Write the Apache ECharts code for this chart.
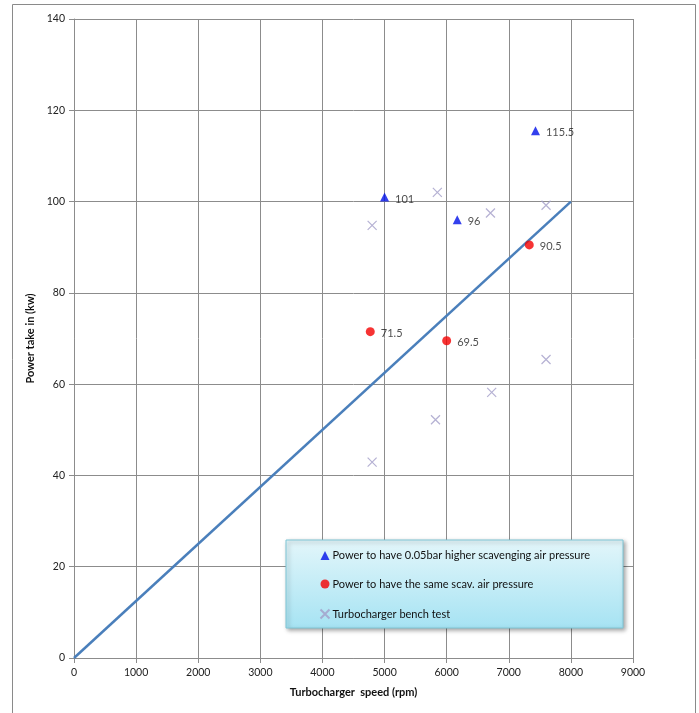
<!DOCTYPE html>
<html>
<head>
<meta charset="utf-8">
<script src="https://cdn.jsdelivr.net/npm/echarts@6/dist/echarts.min.js"></script>
<style>html,body{margin:0;padding:0;background:#fff}#c{width:699px;height:713px}</style>
</head>
<body>
<div id="c"></div>
<script>
// Data
const triX = [5000, 6170, 7430];
const triY = [101, 96, 115.5];
const triLabels = ['101', '96', '115.5'];
const dotX = [4770, 6000, 7330];
const dotY = [71.5, 69.5, 90.5];
const dotLabels = ['71.5', '69.5', '90.5'];
const crossX = [4800, 5850, 6705, 7600, 4800, 5820, 6725, 7600];
const crossY = [94.8, 102.0, 97.5, 99.2, 42.9, 52.2, 58.2, 65.4];
const lineX = [0, 8000];
const lineY = [0, 100];
const seriesNames = [
  'Power to have 0.05bar higher scavenging air pressure',
  'Power to have the same scav. air pressure',
  'Turbocharger bench test'
];
const xTicks = [0, 1000, 2000, 3000, 4000, 5000, 6000, 7000, 8000, 9000];
const yTicks = [0, 20, 40, 60, 80, 100, 120, 140];

const zip = (xs, ys) => xs.map((x, i) => [x, ys[i]]);
const FONT = 'Lato';

const chart = echarts.init(document.getElementById('c'), null, {renderer: 'canvas'});
const crossPath = 'path://M0,0L10,10M10,0L0,10';

chart.setOption({
  animation: false,
  backgroundColor: '#fff',
  graphic: [
    {type: 'rect', z: 0, shape: {x: 12.5, y: 4.5, width: 683, height: 720},
     style: {fill: 'none', stroke: '#8a8a8a', lineWidth: 1}},
    {type: 'rect', z: 10, shape: {x: 286, y: 540, width: 337, height: 88},
     style: {
       fill: new echarts.graphic.LinearGradient(0, 0, 0, 1, [
         {offset: 0, color: '#e3f6fa'}, {offset: 1, color: '#a6e3f3'}]),
       stroke: '#7fc6d6', lineWidth: 1,
       shadowBlur: 4, shadowOffsetX: 2, shadowOffsetY: 2, shadowColor: 'rgba(0,0,0,0.35)'
     }}
  ],
  grid: {left: 74, right: 66, top: 19, bottom: 55, containLabel: false},
  xAxis: {
    type: 'value', min: 0, max: 9000, interval: 1000,
    name: 'Turbocharger  speed (rpm)', nameLocation: 'middle', nameGap: 29,
    nameTextStyle: {fontFamily: FONT, fontWeight: 'bold', fontSize: 11, color: '#111'},
    axisLine: {show: true, lineStyle: {color: '#8c8c8c', width: 1}},
    axisTick: {show: true, length: 5, inside: false, lineStyle: {color: '#8c8c8c'}},
    axisLabel: {fontFamily: FONT, fontSize: 10.5, color: '#222', margin: 9,
      formatter: v => xTicks.includes(v) ? String(v) : ''},
    splitLine: {show: true, lineStyle: {color: '#8c8c8c', width: 1}}
  },
  yAxis: {
    type: 'value', min: 0, max: 140, interval: 20,
    name: 'Power take in (kw)', nameLocation: 'middle', nameGap: 34,
    nameTextStyle: {fontFamily: FONT, fontWeight: 'bold', fontSize: 11, color: '#111'},
    axisLine: {show: true, lineStyle: {color: '#8c8c8c', width: 1}},
    axisTick: {show: true, length: 5, inside: false, lineStyle: {color: '#8c8c8c'}},
    axisLabel: {fontFamily: FONT, fontSize: 10.5, color: '#222', margin: 9,
      formatter: v => yTicks.includes(v) ? String(v) : ''},
    splitLine: {show: true, lineStyle: {color: '#8c8c8c', width: 1}}
  },
  legend: {
    orient: 'vertical', left: 313, top: 545, itemWidth: 9, itemHeight: 9, itemGap: 17.5,
    data: seriesNames, selectedMode: false,
    textStyle: {fontFamily: FONT, fontSize: 11, color: '#111', padding: [0, 0, 0, -2]},
    z: 12
  },
  series: [
    {type: 'line', name: 'fit', data: zip(lineX, lineY), symbol: 'none',
     lineStyle: {color: '#4a7fbb', width: 2.5}, z: 1, silent: true},
    {type: 'scatter', name: seriesNames[0], data: zip(triX, triY), symbol: 'triangle', symbolSize: 9,
     itemStyle: {color: '#0010e8'},
     label: {show: true, position: 'right', distance: 6, offset: [0, 2], fontFamily: FONT, fontSize: 11, color: '#222',
       formatter: p => triLabels[p.dataIndex]}, z: 3},
    {type: 'scatter', name: seriesNames[1], data: zip(dotX, dotY), symbol: 'circle', symbolSize: 9,
     itemStyle: {color: '#f40000'},
     label: {show: true, position: 'right', distance: 6, offset: [0, 2], fontFamily: FONT, fontSize: 11, color: '#222',
       formatter: p => dotLabels[p.dataIndex]}, z: 3},
    {type: 'scatter', name: seriesNames[2], data: zip(crossX, crossY), symbol: crossPath, symbolSize: 9,
     itemStyle: {color: 'none', borderColor: '#a29ec8', borderWidth: 1.2}, z: 3}
  ]
});
</script>
</body>
</html>
